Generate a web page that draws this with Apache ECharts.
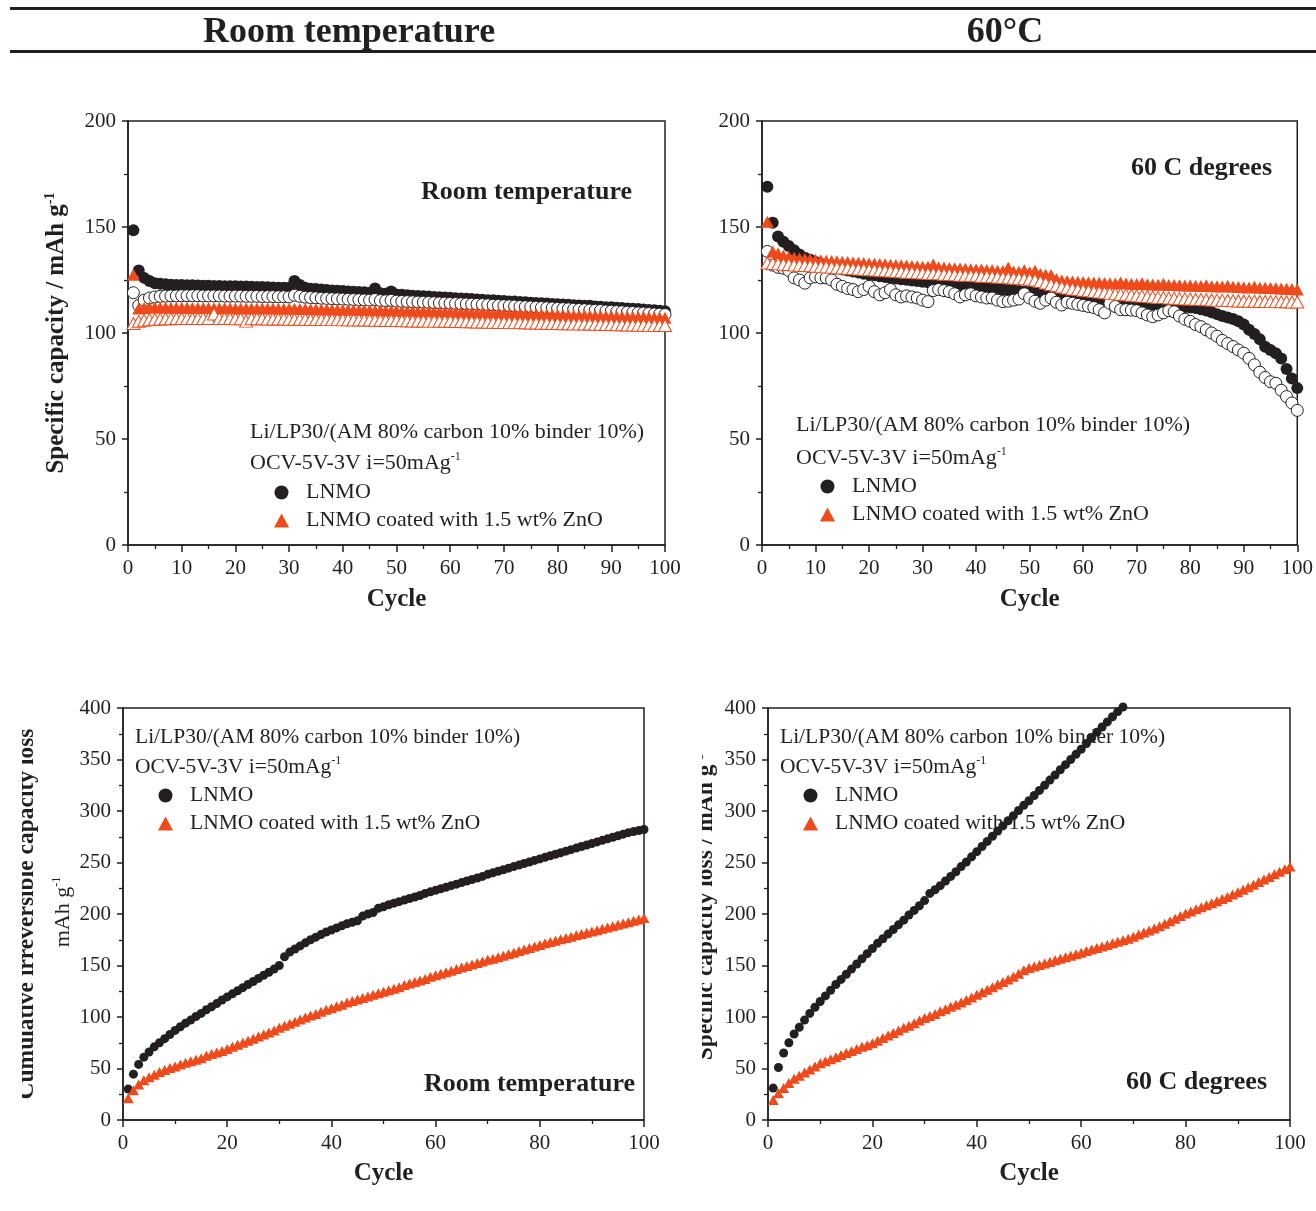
<!DOCTYPE html>
<html><head><meta charset="utf-8">
<script src="https://cdn.jsdelivr.net/npm/echarts@6/dist/echarts.min.js"></script>
<style>html,body{margin:0;padding:0;background:#fff}#c{width:1316px;height:1211px}</style>
</head><body><div id="c"></div>
<script>
// ---------- DATA (cycle index = position + 1) ----------
const rtLnmoFilled = [148.5,129.5,126.0,124.5,123.5,123.2,123.0,122.8,122.7,122.6,
122.5,122.5,122.4,122.3,122.3,122.2,122.2,122.1,122.0,122.0,
121.9,121.9,121.8,121.7,121.7,121.6,121.5,121.4,121.3,121.3,
124.5,122.6,121.4,120.9,120.7,120.5,120.3,120.1,119.9,119.8,
119.6,119.4,119.3,119.2,119.0,121.0,118.7,118.5,119.6,118.2,
118.0,117.8,117.6,117.5,117.3,117.2,117.0,116.9,116.7,116.6,
116.4,116.3,116.1,116.0,115.8,115.7,115.5,115.4,115.2,115.1,
114.9,114.8,114.6,114.5,114.3,114.2,114.0,113.9,113.7,113.6,
113.4,113.3,113.1,113.0,112.8,112.8,112.5,112.4,112.2,112.1,
111.9,111.8,111.6,111.4,111.3,111.1,110.9,110.7,110.5,110.3];
const rtLnmoOpen = [119.0,113.0,115.5,116.5,117.0,117.3,117.4,117.5,117.5,117.6,
117.6,117.6,117.6,117.5,117.5,117.5,117.5,117.4,117.4,117.4,
117.4,117.3,117.3,117.3,117.2,117.2,117.2,117.1,117.1,117.0,
117.8,117.3,116.9,116.7,116.6,116.4,116.3,116.2,116.1,116.0,
115.9,115.8,115.7,115.6,115.5,115.8,115.3,115.2,115.4,115.0,
114.9,114.8,114.7,114.6,114.5,114.4,114.3,114.2,114.1,114.0,
113.9,113.8,113.7,113.6,113.5,113.4,113.3,113.1,113.0,112.9,
112.8,112.7,112.5,112.4,112.3,112.2,112.0,111.9,111.8,111.6,
111.5,111.4,111.2,111.1,111.0,110.8,110.7,110.6,110.4,110.3,
110.1,110.0,109.8,109.7,109.5,109.4,109.2,109.0,108.9,108.7];
const rtZnoFilled = [127.5,111.5,111.8,112.0,112.0,112.0,112.0,111.9,111.9,111.9,
111.9,111.8,111.8,111.8,111.8,111.7,111.7,111.7,111.7,111.6,
111.6,111.6,111.6,111.5,111.5,111.5,111.5,111.4,111.4,111.4,
111.4,111.3,111.3,111.2,111.2,111.1,111.1,111.0,111.0,110.9,
110.9,110.8,110.8,110.7,110.7,110.6,110.6,110.5,110.5,110.4,
110.4,110.3,110.3,110.2,110.2,110.1,110.0,110.0,109.9,109.9,
109.8,109.7,109.7,109.6,109.5,109.5,109.4,109.3,109.3,109.2,
109.1,109.1,109.0,108.9,108.9,108.8,108.7,108.7,108.6,108.5,
108.5,108.4,108.3,108.3,108.2,108.1,108.1,108.0,107.9,107.9,
107.8,107.7,107.7,107.6,107.5,107.5,107.4,107.3,107.3,107.2];
const rtZnoOpen = [104.5,105.5,106.0,106.3,106.5,106.6,106.7,106.7,106.8,106.8,
106.8,106.8,106.8,106.8,106.8,109.0,106.8,106.8,106.8,106.7,
106.7,105.6,106.7,106.7,106.7,106.6,106.6,106.6,106.6,106.5,
106.5,106.5,106.5,106.4,106.4,106.4,106.3,106.3,106.3,106.2,
106.2,106.2,106.1,106.1,106.1,106.0,106.0,105.9,105.9,105.9,
105.8,105.8,105.7,105.7,105.7,105.6,105.6,105.5,105.5,105.5,
105.4,105.4,105.3,105.3,105.2,105.2,105.1,105.1,105.0,105.0,
104.9,104.9,104.8,104.8,104.7,104.7,104.6,104.6,104.5,104.5,
104.4,104.4,104.3,104.3,104.2,104.2,104.1,104.1,104.0,104.0,
103.9,103.9,103.8,103.8,103.7,103.7,103.6,103.6,103.5,103.5];

const htLnmoFilled = [169.0,152.0,145.5,143.0,141.0,139.0,137.0,135.5,134.5,133.5,
132.5,131.8,131.0,130.5,130.0,129.5,129.0,128.5,128.0,127.6,
127.2,126.8,126.4,126.0,125.7,125.4,125.1,124.8,124.5,124.2,
123.9,123.6,123.4,123.1,122.9,122.6,122.4,122.1,121.9,121.7,
121.4,121.2,121.0,120.8,120.5,120.3,120.1,119.8,119.6,119.3,
119.1,118.8,118.6,118.3,118.1,117.8,117.5,117.2,117.0,116.7,
116.4,116.2,115.9,115.7,115.4,115.2,114.9,114.7,114.4,114.2,
113.9,113.7,113.5,113.3,113.1,112.9,112.7,112.5,112.3,112.0,
111.8,111.2,110.6,109.8,108.9,108.0,107.3,106.6,105.5,104.0,
101.5,99.5,97.0,93.5,92.0,90.5,88.0,83.0,78.5,74.0];
const htLnmoOpen = [138.5,132.0,131.0,130.5,129.5,126.0,125.0,123.5,126.0,126.5,
126.0,126.0,125.0,123.0,122.0,121.0,120.5,119.5,120.5,122.0,
119.5,118.0,119.0,120.5,118.0,117.0,117.5,117.0,116.5,115.5,
114.8,120.0,120.5,120.0,119.5,118.5,117.0,118.0,118.5,117.5,
117.0,116.5,116.5,115.5,114.8,115.0,115.5,116.0,118.5,116.5,
115.0,114.0,115.5,116.5,114.5,113.2,114.5,114.0,113.5,113.0,
112.5,112.0,111.0,109.5,114.0,112.5,111.0,111.0,110.8,110.5,
109.5,108.5,107.7,108.5,109.5,110.5,110.0,108.0,106.5,105.5,
104.0,103.0,101.5,100.0,98.5,96.5,95.0,93.6,92.0,90.5,
88.0,85.0,81.5,79.0,77.0,76.3,73.0,70.0,67.0,63.5];
const htZnoFilled = [152.5,138.5,137.5,136.5,136.0,135.5,135.2,135.0,134.8,134.5,
134.3,134.1,134.0,133.8,133.6,133.5,133.3,133.1,133.0,132.8,
132.7,132.5,132.4,132.2,132.1,131.9,131.8,131.6,131.5,131.3,
131.2,132.3,131.0,130.9,130.7,130.6,130.4,130.3,130.1,130.0,
129.9,129.7,129.6,129.4,129.3,130.8,129.0,128.9,129.6,128.6,
129.4,127.8,127.5,127.4,125.5,124.8,124.5,124.3,124.2,124.0,
123.9,123.8,123.7,123.6,123.5,123.4,123.8,123.3,123.2,123.1,
123.5,123.0,122.9,122.8,123.2,122.7,122.6,122.5,122.4,122.4,
122.3,122.2,122.5,122.1,122.0,121.9,122.3,121.8,121.7,121.6,
121.5,121.8,121.4,121.3,121.2,121.1,121.0,120.9,120.8,120.5];
const htZnoOpen = [133.0,132.8,132.6,132.4,132.3,132.1,132.0,131.8,131.7,131.5,
131.3,131.2,131.0,130.8,130.7,130.5,130.3,130.2,130.0,129.8,
129.7,129.5,129.4,129.2,129.0,128.9,128.7,128.6,128.4,128.3,
128.1,128.0,127.9,127.7,127.6,127.5,127.3,127.2,127.1,127.0,
126.8,126.7,126.5,126.4,126.2,126.1,125.9,125.8,125.6,125.5,
125.0,124.3,123.6,122.9,122.3,121.7,121.2,120.8,120.5,120.2,
119.9,119.6,119.3,119.0,118.8,118.5,118.3,118.0,117.8,117.6,
117.4,117.2,117.0,116.8,116.7,116.5,116.4,116.2,116.1,116.0,
115.9,115.8,115.7,115.6,115.5,115.4,115.3,115.2,115.1,115.1,
115.0,115.0,114.9,114.9,114.8,114.8,114.7,114.7,114.6,114.6];

const rtLossLnmo = [30,44.5,54,61,66,71,75,79,83,87,
90.5,94,97,100.5,103.5,107,110,113,116.5,119.5,
122.5,125.5,128.5,131.5,134.5,137.5,140.5,143.5,146.5,150,
158.5,163,166,169,172,175,177.5,180,182.5,184.5,
186.5,188.5,190.5,192,193.5,198,200,201.5,205.5,207,
209,210.5,212,213.5,215,216.5,218,220,221.5,223,
224.5,226,227.5,229,230.5,232,233.5,235,236.5,238.5,
240,241.5,243,244.5,246,247.5,249,250.5,252,253.5,
255,256.5,258,259.5,261,262.5,264,265.5,267,268.5,
270,271.5,273,274.5,276,277.5,279,280,281,282];
const rtLossZno = [21,29,34.5,38.5,41.5,44,46.5,48.5,50.5,52,
54,55.5,57,58.5,60,62.5,64,65.5,67,69,
71,73,75,77,79,81,83,85,87,89.5,
91.5,93.5,95.5,97.5,99.5,101.5,103,105,107,108.5,
110.5,112,114,115.5,117,118.5,120,121.5,123,124.5,
126,127.5,129,131,132.5,134,135.5,137,139,140.5,
142,143.5,145,146.5,148,149.5,151,152.5,154,155.5,
156.5,158,159.5,161,162.5,164,165.5,167,168.5,170,
171.5,172.8,174.1,175.4,176.7,178,179.3,180.6,181.9,183,
184.3,185.6,186.9,188.2,189.5,190.8,192.1,193.4,194.7,196];
const htLossLnmo = [31,51,65,75,83.5,90,97,103.5,109.5,115,
120.5,126,131.5,136.5,141.5,146.5,151.5,156.5,161.5,166.5,
171.5,176,180.5,185,189.5,194,199,203.5,208,213,
220,223.5,227.5,232,236.5,241,246,250.5,255.5,260.5,
265.5,270.5,275.5,280.5,285.5,290.5,295.5,300.5,305.5,310,
315,320,325,330,335,340,345,350,355,360,
365.5,371,376.5,381.5,386.5,391.5,396.5,401];
const htLossZno = [19.5,26,31,36,40,43,46,49,52,55,
57,59,61,63,65,67,69,71,72.5,74.5,
77,79.5,82,84.5,87,89.5,91.5,94,96.5,99,
101,103,105.5,107.5,110,112,114,116.5,119,121.5,
124,126.5,129,131.5,134,136.5,139,142,145.5,147.5,
149,150.5,152,153.5,155,156.5,158,159.5,161,162.5,
164,165.5,167,168.5,170,171.5,173,174.5,176,178,
180,182,184,186,188,190.5,193,195.5,198,200.5,
202.5,204.5,206.5,208.5,210.5,212.5,214.5,216.5,219,221,
223.5,226,228.5,231,233.5,236,238.5,241,243.5,246];

const headerTitles = ['Room temperature', '60°C'];
const panelTags = ['Room temperature', '60 C degrees', 'Room temperature', '60 C degrees'];
const legendNames = ['LNMO', 'LNMO coated with 1.5 wt% ZnO'];
const cellLine = 'Li/LP30/(AM 80% carbon 10% binder 10%)';
const condLine = 'OCV-5V-3V i=50mAg';

// ---------- STYLE ----------
const INK = '#231F20', ORANGE = '#EF4A1C';
const FONT = '"Liberation Serif","Times New Roman",Times,serif';
const pts = a => a.map((v, i) => [i + 1, v]);

const grids = [
  {left: 128, top: 121, width: 537, height: 424},
  {left: 762, top: 121, width: 536, height: 424},
  {left: 123, top: 708, width: 521, height: 412},
  {left: 768, top: 708, width: 522, height: 412}
].map(g => Object.assign({show: true, borderColor: INK, borderWidth: 1.5, backgroundColor: 'transparent'}, g));

function xAx(gi, interval, gap) {
  return {type: 'value', gridIndex: gi, min: 0, max: 100, interval,
    axisLine: {show: true, onZero: false, lineStyle: {color: INK, width: 1.5}},
    axisTick: {show: true, length: 7, lineStyle: {color: INK, width: 1.5}},
    minorTick: {show: true, splitNumber: 2, length: 4, lineStyle: {color: INK, width: 1.3}},
    splitLine: {show: false},
    axisLabel: {color: INK, fontSize: 21, fontFamily: FONT, margin: 13},
    name: 'Cycle', nameLocation: 'middle', nameGap: gap,
    nameTextStyle: {color: INK, fontSize: 25, fontWeight: 'bold', fontFamily: FONT}};
}
function yAx(gi, max, extra) {
  return Object.assign({type: 'value', gridIndex: gi, min: 0, max, interval: 50,
    axisLine: {show: true, onZero: false, lineStyle: {color: INK, width: 1.5}},
    axisTick: {show: true, length: 6, lineStyle: {color: INK, width: 1.5}},
    minorTick: {show: true, splitNumber: 2, length: 4, lineStyle: {color: INK, width: 1.3}},
    splitLine: {show: false},
    axisLabel: {color: INK, fontSize: 21, fontFamily: FONT, margin: 12}}, extra || {});
}

function base(name, gi, data, symbol, size, itemStyle, extra) {
  return Object.assign({type: 'scatter', name, xAxisIndex: gi, yAxisIndex: gi, data: pts(data),
    symbol, symbolSize: size, itemStyle: Object.assign({opacity: 1}, itemStyle),
    emphasis: {disabled: true}}, extra || {});
}
const fc = (n, g, d, s, e) => base(n, g, d, 'circle', s, {color: INK}, e);
const oc = (n, g, d, s) => base(n, g, d, 'circle', s, {color: '#fff', borderColor: INK, borderWidth: 1});
const ft = (n, g, d, s) => base(n, g, d, 'triangle', s, {color: ORANGE});
const ot = (n, g, d, s) => base(n, g, d, 'triangle', s, {color: '#fff', borderColor: ORANGE, borderWidth: 1});

const series = [
  fc(legendNames[0], 0, rtLnmoFilled, 12),
  oc('LNMO discharge RT', 0, rtLnmoOpen, 12),
  ft(legendNames[1], 0, rtZnoFilled, [13, 12]),
  ot('ZnO discharge RT', 0, rtZnoOpen, [13, 12]),
  fc(legendNames[0], 1, htLnmoFilled, 12),
  oc('LNMO discharge 60', 1, htLnmoOpen, 12),
  ft(legendNames[1], 1, htZnoFilled, [13, 12]),
  ot('ZnO discharge 60', 1, htZnoOpen, [13, 12]),
  fc(legendNames[0], 2, rtLossLnmo, 9),
  ft(legendNames[1], 2, rtLossZno, [11, 10]),
  fc(legendNames[0], 3, htLossLnmo, 9, {clip: false}),
  ft(legendNames[1], 3, htLossZno, [11, 10])
];

function legendAt(left, top, fs) {
  return {left, top, orient: 'vertical', itemWidth: 15, itemHeight: 14, itemGap: 6,
    symbolKeepAspect: true, selectedMode: false,
    textStyle: {color: INK, fontSize: fs, fontFamily: FONT, lineHeight: 21, padding: [0, 0, 0, 12]},
    data: [{name: legendNames[0], icon: 'circle'}, {name: legendNames[1], icon: 'triangle'}]};
}

function note(x, y1, y2, fs) {
  const rich = {n: {fontSize: fs, fontFamily: FONT, fill: INK, color: INK, lineHeight: 24},
                s: {fontSize: 12, fontFamily: FONT, fill: INK, color: INK, verticalAlign: 'top', lineHeight: 12}};
  return [
    {type: 'text', x, y: y1, style: {text: cellLine, fontSize: fs, fontFamily: FONT, fill: INK, align: 'left', verticalAlign: 'middle'}},
    {type: 'text', x, y: y2, style: {text: '{n|' + condLine + '}{s|-1}', rich, align: 'left', verticalAlign: 'middle'}}
  ];
}
function tag(text, x, y) {
  return {type: 'text', x, y, style: {text, fontSize: 26, fontWeight: 'bold', fontFamily: FONT, fill: INK, align: 'right', verticalAlign: 'middle'}};
}

const graphics = [
  {type: 'line', shape: {x1: 10, y1: 8.5, x2: 1316, y2: 8.5}, style: {stroke: INK, lineWidth: 3}},
  {type: 'line', shape: {x1: 10, y1: 51.5, x2: 1316, y2: 51.5}, style: {stroke: INK, lineWidth: 3}},
  {type: 'text', x: 349, y: 33, style: {text: headerTitles[0], fontSize: 36, fontWeight: 'bold', fontFamily: FONT, fill: INK, align: 'center', verticalAlign: 'middle'}},
  {type: 'text', x: 1005, y: 33, style: {text: headerTitles[1], fontSize: 36, fontWeight: 'bold', fontFamily: FONT, fill: INK, align: 'center', verticalAlign: 'middle'}},
  ...note(250, 432, 463, 22), ...note(796, 425, 458, 22), ...note(135, 737, 767, 21.5), ...note(780, 737, 767, 21.5),
  tag(panelTags[0], 632, 192), tag(panelTags[1], 1272, 168), tag(panelTags[2], 635, 1084), tag(panelTags[3], 1267, 1082),
  // bottom-left y title (cropped at the left edge in the source figure)
  {type: 'text', x: 27, y: 914, rotation: Math.PI / 2, style: {text: 'Cumulative irreversible capacity loss', fontSize: 23.5, fontWeight: 'bold', fontFamily: FONT, fill: INK, align: 'center', verticalAlign: 'middle'}},
  {type: 'text', x: 63, y: 912, rotation: Math.PI / 2, style: {text: '{n|mAh g}{s|-1}', rich: {n: {fontSize: 22, fontFamily: FONT, fill: INK, lineHeight: 24}, s: {fontSize: 12, fontFamily: FONT, fill: INK, verticalAlign: 'top', lineHeight: 12}}, align: 'center', verticalAlign: 'middle'}},
  // bottom-right y title (cropped)
  {type: 'text', x: 706, y: 907, rotation: Math.PI / 2, style: {text: '{b|Specific capacity loss / mAh g}{s|-1}', rich: {b: {fontSize: 23.5, fontWeight: 'bold', fontFamily: FONT, fill: INK, lineHeight: 26}, s: {fontSize: 13, fontWeight: 'bold', fontFamily: FONT, fill: INK, verticalAlign: 'top', lineHeight: 13}}, align: 'center', verticalAlign: 'middle'}},
  {type: 'rect', shape: {x: 0, y: 690, width: 22, height: 440}, style: {fill: '#fff'}, z: 200},
  {type: 'rect', shape: {x: 664, y: 690, width: 38, height: 440}, style: {fill: '#fff'}, z: 200}
];

const option = {
  animation: false,
  backgroundColor: '#fff',
  textStyle: {fontFamily: FONT},
  grid: grids,
  xAxis: [xAx(0, 10, 42), xAx(1, 10, 42), xAx(2, 20, 41), xAx(3, 20, 41)],
  yAxis: [
    yAx(0, 200, {name: '{b|Specific capacity / mAh g}{s|-1}', nameLocation: 'middle', nameRotate: 90, nameGap: 57,
      nameTextStyle: {rich: {b: {fontSize: 25, fontWeight: 'bold', fontFamily: FONT, color: INK, lineHeight: 28}, s: {fontSize: 14, fontWeight: 'bold', fontFamily: FONT, color: INK, verticalAlign: 'top', lineHeight: 14}}}}),
    yAx(1, 200), yAx(2, 400), yAx(3, 400)
  ],
  legend: [legendAt(269, 476.5, 22), legendAt(815, 470.5, 22), legendAt(153, 779.5, 21.5), legendAt(798, 779.5, 21.5)],
  series,
  graphic: graphics
};
const chart = echarts.init(document.getElementById('c'), null, {renderer: 'canvas'});
chart.setOption(option);
</script></body></html>
